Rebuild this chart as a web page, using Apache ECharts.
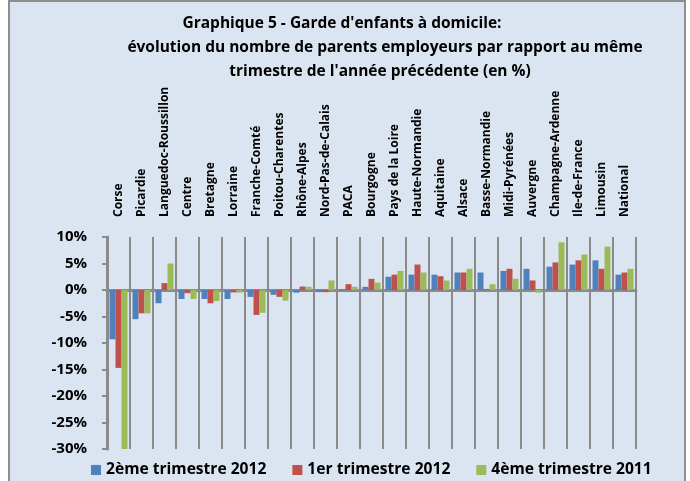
<!DOCTYPE html>
<html>
<head>
<meta charset="utf-8">
<script src="https://cdn.jsdelivr.net/npm/echarts@6/dist/echarts.min.js"></script>
<style>
  html, body { margin: 0; padding: 0; background: #ffffff; }
  #frame {
    position: absolute; left: 8px; top: 0px; width: 674px; height: 492px;
    border: 2px solid #8e8e8e; background: #dbe5f1;
  }
  #chart { position: absolute; left: 0; top: 0; width: 690px; height: 481px; }
</style>
</head>
<body>
<div id="frame"></div>
<div id="chart"></div>
<script>
// ==============================
// 数据
// ==============================
const regions = [
  'Corse', 'Picardie', 'Languedoc-Roussillon', 'Centre', 'Bretagne', 'Lorraine',
  'Franche-Comté', 'Poitou-Charentes', 'Rhône-Alpes', 'Nord-Pas-de-Calais', 'PACA',
  'Bourgogne', 'Pays de la Loire', 'Haute-Normandie', 'Aquitaine', 'Alsace',
  'Basse-Normandie', 'Midi-Pyrénées', 'Auvergne', 'Champagne-Ardenne',
  'Ile-de-France', 'Limousin', 'National'
];

const t2_2012 = [-9.3, -5.5, -2.5, -1.7, -1.7, -1.7, -1.3, -0.9, -0.5, -0.4, 0.1,
  0.6, 2.5, 2.9, 2.9, 3.3, 3.3, 3.6, 4.0, 4.4, 4.8, 5.6, 2.9];
const t1_2012 = [-14.7, -4.4, 1.3, -0.6, -2.5, -0.45, -4.7, -1.3, 0.65, -0.4, 1.1,
  2.1, 2.9, 4.8, 2.6, 3.3, 0.2, 4.0, 1.8, 5.2, 5.6, 4.0, 3.3];
const t4_2011 = [-30, -4.4, 5.0, -1.7, -2.1, -0.5, -4.3, -2.0, 0.6, 1.8, 0.6,
  1.4, 3.6, 3.3, 1.8, 4.0, 1.1, 2.1, -0.5, 9.0, 6.7, 8.2, 4.0];

const seriesNames = ['2ème trimestre 2012', '1er trimestre 2012', '4ème trimestre 2011'];
const colors = ['#4f81bd', '#c0504d', '#9bbb59'];

const titleLines = [
  "Graphique 5 - Garde d'enfants à domicile:",
  'évolution du nombre de parents employeurs par rapport au même',
  "trimestre de l'année précédente (en %)"
];

const font = '"Open Sans", Lato, sans-serif';
const gray = '#8a8a8a';

const chart = echarts.init(document.getElementById('chart'));

chart.setOption({
  animation: false,
  backgroundColor: 'transparent',
  textStyle: { fontFamily: font },
  title: titleLines.map((t, i) => ({
    text: t,
    left: [337, 380, 375][i],
    top: 11 + i * 24,
    textAlign: 'center',
    textStyle: { fontFamily: font, fontSize: 15.5, fontWeight: 'bold', color: '#000' }
  })),
  legend: {
    left: 86,
    top: 457,
    icon: 'rect',
    itemWidth: 10,
    itemHeight: 10,
    itemGap: 26,
    textStyle: { fontFamily: font, fontSize: 15.6, fontWeight: 'bold', color: '#000' },
    data: seriesNames
  },
  grid: { left: 107, right: 54, top: 237, bottom: 32 },
  xAxis: [
    {
      // étiquettes en haut (lecture de bas en haut) + lignes verticales
      type: 'category',
      data: regions,
      position: 'top',
      axisLine: { show: false, onZero: false },
      axisTick: { show: false },
      axisLabel: {
        rotate: -90, margin: 20, interval: 0,
        fontFamily: font, fontSize: 12, fontWeight: 'bold', color: '#000'
      },
      splitLine: { show: true, interval: 0, lineStyle: { color: gray, width: 2 } }
    },
    {
      // axe du zéro
      type: 'category',
      data: regions,
      position: 'bottom',
      axisLine: { show: true, onZero: true, lineStyle: { color: gray, width: 3 } },
      axisTick: { show: false },
      axisLabel: { show: false }
    }
  ],
  yAxis: {
    type: 'value',
    min: -30,
    max: 10,
    interval: 5,
    axisLine: { show: true, lineStyle: { color: gray, width: 3 } },
    axisTick: { show: true, length: 5, lineStyle: { color: gray, width: 2 } },
    splitLine: { show: false },
    axisLabel: {
      formatter: '{value}%', margin: 20,
      fontFamily: font, fontSize: 15, fontWeight: 'bold', color: '#000'
    }
  },
  series: [t2_2012, t1_2012, t4_2011].map((d, i) => ({
    name: seriesNames[i],
    type: 'bar',
    data: d,
    barWidth: 6,
    barGap: '0%',
    itemStyle: { color: colors[i] }
  }))
});
</script>
</body>
</html>
